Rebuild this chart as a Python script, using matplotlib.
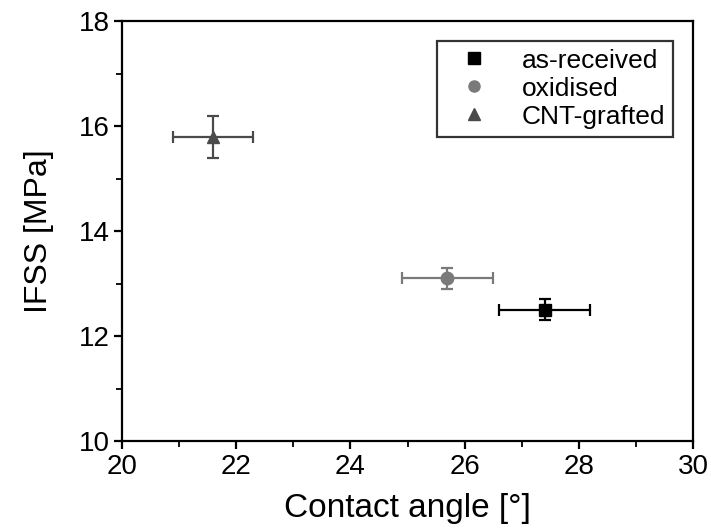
import numpy as np
import matplotlib.pyplot as plt
from matplotlib.ticker import MultipleLocator
from matplotlib.lines import Line2D

plt.rcParams['font.family'] = ['Liberation Sans', 'DejaVu Sans']

# valores
samples = ['as-received', 'oxidised', 'CNT-grafted']
angle = [27.4, 25.7, 21.6]
angle_err = [0.8, 0.8, 0.7]
ifss = [12.5, 13.1, 15.8]
ifss_err = [0.2, 0.2, 0.4]

markers = ['s', 'o', '^']
colors = ['#000000', '#7a7a7a', '#4a4a4a']

fig = plt.figure(figsize=(7.11, 5.31), dpi=100)
ax = fig.add_axes([122 / 711, 90 / 531, 571 / 711, 420 / 531])

for i in range(len(samples)):
    ax.errorbar(angle[i], ifss[i], xerr=angle_err[i], yerr=ifss_err[i],
                fmt=markers[i], color=colors[i], ms=9, capsize=4,
                elinewidth=1.6, capthick=1.6)

ax.set_xlim(20, 30)
ax.set_ylim(10, 18)
ax.xaxis.set_major_locator(MultipleLocator(2))
ax.xaxis.set_minor_locator(MultipleLocator(1))
ax.yaxis.set_major_locator(MultipleLocator(2))
ax.yaxis.set_minor_locator(MultipleLocator(1))
ax.tick_params(which='major', direction='out', length=6, width=1.6,
               labelsize=20, pad=3)
ax.tick_params(which='minor', direction='out', length=4, width=1.3)
for s in ax.spines.values():
    s.set_linewidth(1.6)

ax.set_xlabel('Contact angle [°]', fontsize=24, labelpad=10)
ax.set_ylabel('IFSS [MPa]', fontsize=23, labelpad=18)

# legenda só com os marcadores
handles = [Line2D([], [], ls='none', marker=markers[i], color=colors[i], ms=8)
           for i in range(len(samples))]
leg = ax.legend(handles, samples, loc='upper right', fontsize=19, frameon=True,
                fancybox=False, edgecolor='black', handletextpad=0.7,
                borderaxespad=0.75, labelspacing=0.15, handlelength=2.2,
                borderpad=0.3)
leg.get_frame().set_linewidth(1.6)

fig.savefig('out.png', dpi=100)
